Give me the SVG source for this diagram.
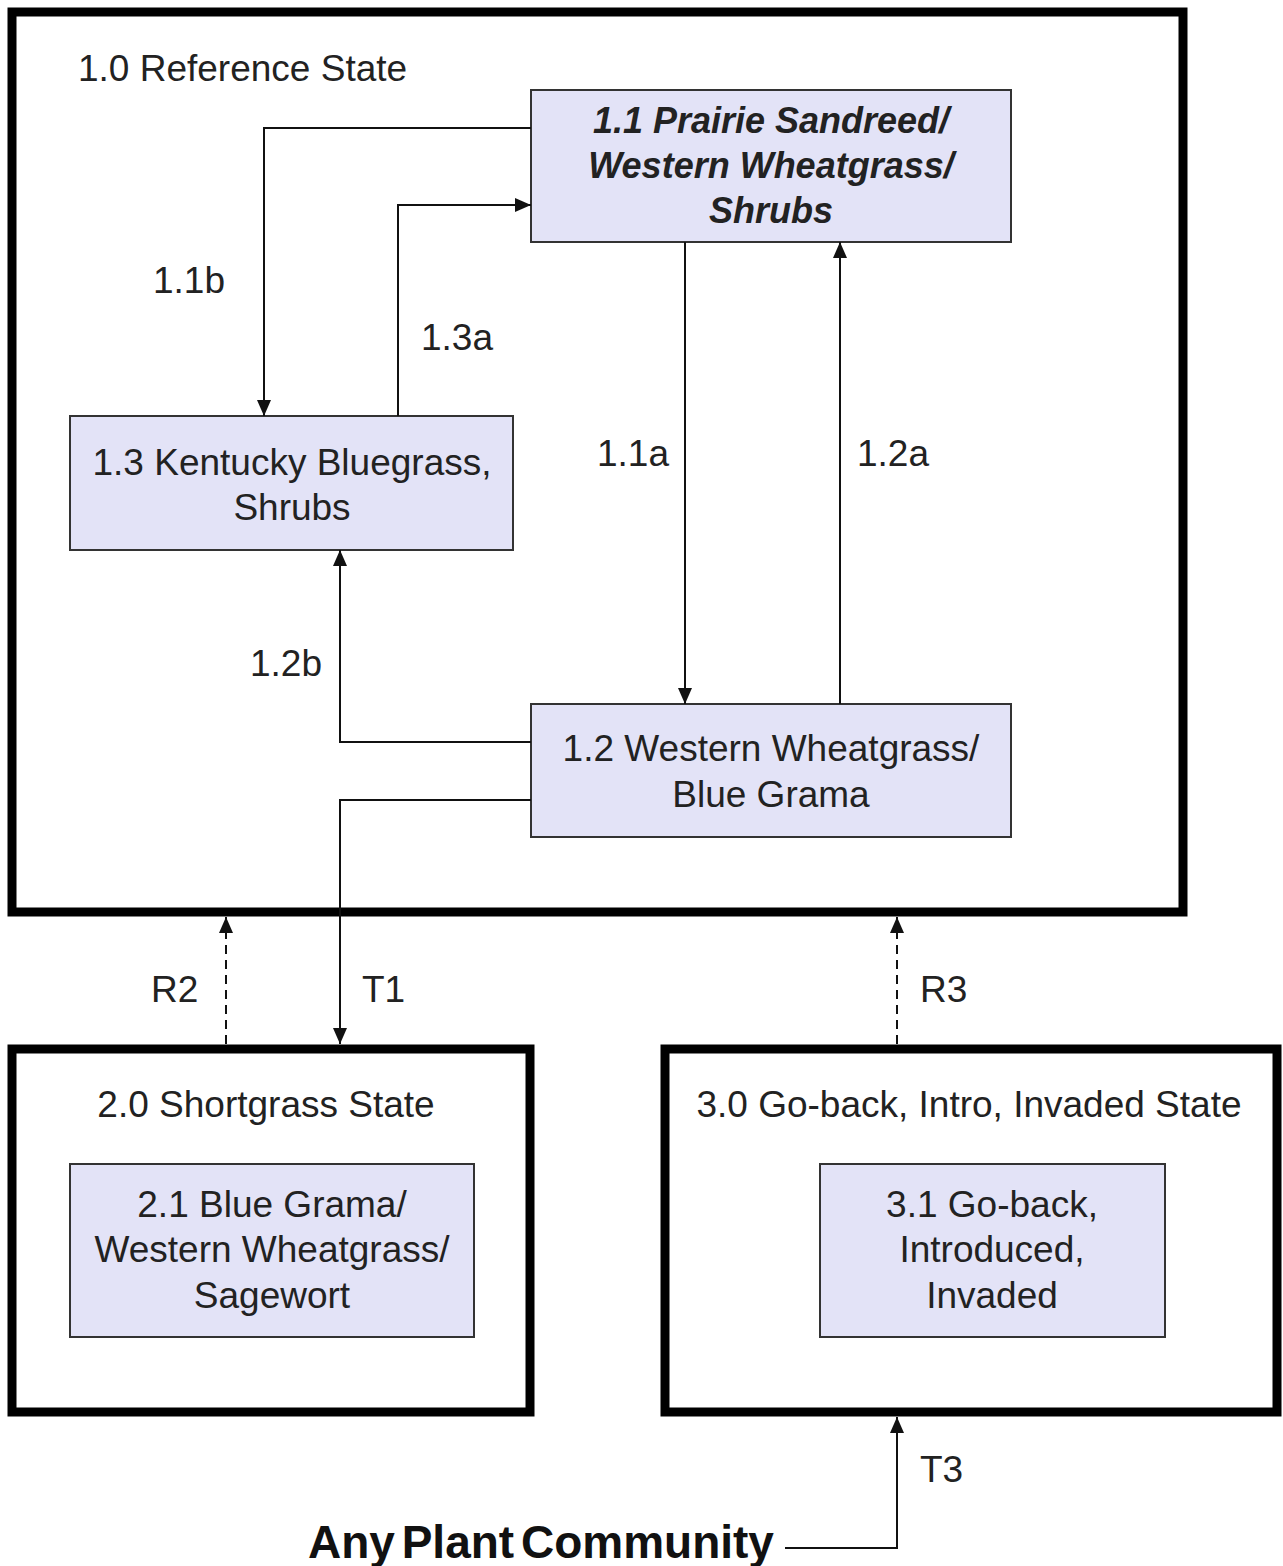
<svg xmlns="http://www.w3.org/2000/svg" width="1283" height="1566" viewBox="0 0 1283 1566">
<style>
.state{fill:#fff;stroke:#000;stroke-width:9}
.node{fill:#E3E3F7;stroke:#333;stroke-width:2}
.t{font-family:"Liberation Sans",Arial,sans-serif;font-size:37px;fill:#222}
.c{text-anchor:middle}
.bi{font-weight:bold;font-style:italic;font-size:36px}
.con{fill:none;stroke:#111;stroke-width:2}
.dash{stroke-dasharray:9,6}
</style>
<defs>
<marker id="ah" markerUnits="userSpaceOnUse" markerWidth="16" markerHeight="14" refX="16" refY="7" orient="auto">
<path d="M0,0 L16,7 L0,14 z" fill="#111"/>
</marker>
</defs>
<rect width="1283" height="1566" fill="#fff"/>
<g id="state1">
<rect class="state" x="12" y="12" width="1171" height="900"/>
<text class="t" x="78" y="81">1.0 Reference State</text>
</g>
<g id="state2">
<rect class="state" x="12" y="1049" width="518" height="363"/>
<text class="t c" x="266" y="1117">2.0 Shortgrass State</text>
</g>
<g id="state3">
<rect class="state" x="665" y="1049" width="612" height="363"/>
<text class="t c" x="969" y="1117">3.0 Go-back, Intro, Invaded State</text>
</g>
<g id="n11">
<rect class="node" x="531" y="90" width="480" height="152"/>
<text class="t c bi" x="771" y="133">1.1 Prairie Sandreed/</text>
<text class="t c bi" x="771" y="178">Western Wheatgrass/</text>
<text class="t c bi" x="771" y="223">Shrubs</text>
</g>
<g id="n13">
<rect class="node" x="70" y="416" width="443" height="134"/>
<text class="t c" x="292" y="475">1.3 Kentucky Bluegrass,</text>
<text class="t c" x="292" y="520">Shrubs</text>
</g>
<g id="n12">
<rect class="node" x="531" y="704" width="480" height="133"/>
<text class="t c" x="771" y="761">1.2 Western Wheatgrass/</text>
<text class="t c" x="771" y="807">Blue Grama</text>
</g>
<g id="n21">
<rect class="node" x="70" y="1164" width="404" height="173"/>
<text class="t c" x="272" y="1217">2.1 Blue Grama/</text>
<text class="t c" x="272" y="1262">Western Wheatgrass/</text>
<text class="t c" x="272" y="1308">Sagewort</text>
</g>
<g id="n31">
<rect class="node" x="820" y="1164" width="345" height="173"/>
<text class="t c" x="992" y="1217">3.1 Go-back,</text>
<text class="t c" x="992" y="1262">Introduced,</text>
<text class="t c" x="992" y="1308">Invaded</text>
</g>
<g id="anyplant">
<text class="t" x="308" y="1558" style="font-weight:bold;font-size:46px;fill:#111;word-spacing:-6px">Any Plant Community</text>
</g>
<g id="connectors">
<polyline class="con" points="531,128 264,128 264,416" marker-end="url(#ah)"/>
<polyline class="con" points="398,416 398,205 531,205" marker-end="url(#ah)"/>
<line class="con" x1="685" y1="242" x2="685" y2="704" marker-end="url(#ah)"/>
<line class="con" x1="840" y1="704" x2="840" y2="242" marker-end="url(#ah)"/>
<polyline class="con" points="531,742 340,742 340,550" marker-end="url(#ah)"/>
<polyline class="con" points="531,800 340,800 340,1044" marker-end="url(#ah)"/>
<line class="con dash" x1="226" y1="1044" x2="226" y2="917" marker-end="url(#ah)"/>
<line class="con dash" x1="897" y1="1044" x2="897" y2="917" marker-end="url(#ah)"/>
<polyline class="con" points="785,1548 897,1548 897,1417" marker-end="url(#ah)"/>
<text class="t" x="153" y="293">1.1b</text>
<text class="t" x="421" y="350">1.3a</text>
<text class="t" x="597" y="466">1.1a</text>
<text class="t" x="857" y="466">1.2a</text>
<text class="t" x="250" y="676">1.2b</text>
<text class="t" x="151" y="1002">R2</text>
<text class="t" x="362" y="1002">T1</text>
<text class="t" x="920" y="1002">R3</text>
<text class="t" x="920" y="1482">T3</text>
</g>
</svg>
